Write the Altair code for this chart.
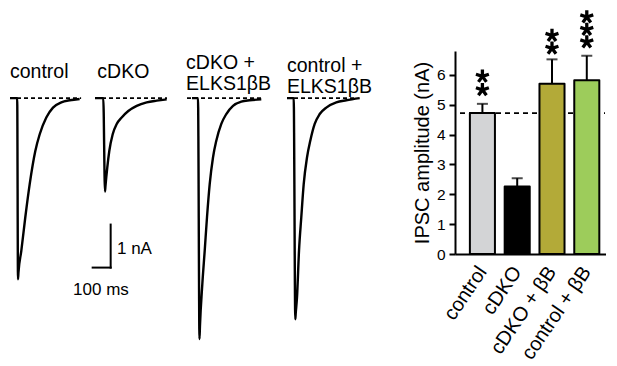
import altair as alt
import pandas as pd

FONT = "Liberation Sans"
MS_PER_PX = 100 / 18.0
Y_DOM = [-5.6, 1.095]

# ---- representative IPSC traces (time in ms, current in nA)
ctrl_t = [0, 40, 44.4, 47, 62.8, 85, 109.4, 140.6, 165, 201.7, 238.9, 285, 331.7, 387]
ctrl_i = [0, 0, -4.21, -4.05, -3.55, -2.77, -2.0, -1.23, -0.84, -0.45, -0.22, -0.10, -0.05, -0.02]

cdko_t = [0, 46, 55.6, 58, 68.3, 79.4, 98.3, 120.6, 148.3, 185, 231.7, 287.2, 342.8, 398.3]
cdko_i = [0, 0, -2.17, -2.05, -1.61, -1.23, -0.84, -0.60, -0.45, -0.30, -0.18, -0.10, -0.06, -0.03]

cdko_elks_t = [27.8, 61.1, 69.4, 72, 85, 98.3, 111.1, 126.1, 144.4, 162.8, 190.6, 218.3, 255.6, 301.7, 348.3, 412.8]
cdko_elks_i = [0, 0, -5.60, -5.30, -4.33, -3.55, -2.77, -2.0, -1.38, -0.99, -0.60, -0.37, -0.18, -0.08, -0.05, -0.03]

ctrl_elks_t = [0, 37.2, 46.1, 48.5, 55.6, 66.7, 79.4, 92.8, 111.1, 129.4, 153.9, 181.7, 218.3, 273.9, 329.4, 403.9]
ctrl_elks_i = [0, 0, -5.14, -5.0, -4.63, -3.55, -2.77, -2.0, -1.38, -0.99, -0.60, -0.37, -0.22, -0.10, -0.05, 0]

dash_ends = [395, 400, 416.7, 389]
panel_widths = [84.5, 92, 100, 168]

trace_labels = [
    (["control"], [0], [0.47]),
    (["cDKO"], [13], [0.47]),
    (["cDKO +", "ELKS1\u03b2B"], [-5, -5], [0.67, 0.19]),
    (["control +", "ELKS1\u03b2B"], [0, 0], [0.61, 0.13]),
]

# scale bar: 100 ms / 1 nA
sb_t = [-13, 87]
sb_t2 = [87, 87]
sb_i = [-3.94, -3.94]
sb_i2 = [-3.94, -2.94]
sb_v_text = ["1 nA"]
sb_v_t = [122]
sb_v_i = [-3.51]
sb_h_text = ["100 ms"]
sb_h_t = [33]
sb_h_i = [-4.47]

# ---- bar chart
cats = ["control", "cDKO", "cDKO + \u03b2B", "control + \u03b2B"]
means = [4.72, 2.26, 5.70, 5.82]
sems = [0.31, 0.28, 0.82, 0.82]
colors = ["#d3d4d6", "#000000", "#b3aa38", "#9dcc5b"]
ref_line = [4.72]
star_cat = ["control", "control", "cDKO + \u03b2B", "cDKO + \u03b2B",
            "control + \u03b2B", "control + \u03b2B", "control + \u03b2B"]
star_y = [5.50, 5.95, 6.89, 7.32, 7.10, 7.52, 7.94]

STAR = "M0,0L0,-1M0,0L0.951,-0.309M0,0L0.588,0.809M0,0L-0.588,0.809M0,0L-0.951,-0.309"

BAR_W = 151
BAR_H = 203


def trace_panel(k, t, i):
    w = panel_widths[k]
    xs = alt.Scale(domain=[0, w * MS_PER_PX], nice=False, zero=False)
    ys = alt.Scale(domain=Y_DOM, nice=False, zero=False)
    X = alt.X("t:Q", scale=xs, axis=None)
    Y = alt.Y("i:Q", scale=ys, axis=None)
    dash_df = pd.DataFrame({"t": [0], "t2": [dash_ends[k]], "i": [0]})
    dash = alt.Chart(dash_df).mark_rule(
        strokeDash=[4, 3], strokeWidth=1.6, color="black"
    ).encode(x=X, x2="t2:Q", y=Y)
    line = alt.Chart(pd.DataFrame({"t": t, "i": i})).mark_line(
        color="black", strokeWidth=2.4, interpolate="monotone", strokeJoin="round"
    ).encode(x=X, y=Y)
    txt, tt, ti = trace_labels[k]
    lab = alt.Chart(pd.DataFrame({"t": tt, "i": ti, "label": txt})).mark_text(
        align="left", baseline="alphabetic", font=FONT, fontSize=19.5, color="black"
    ).encode(x=X, y=Y, text="label:N")
    layers = [dash, line, lab]
    if k == 1:
        sb = alt.Chart(pd.DataFrame({"t": sb_t, "t2": sb_t2, "i": sb_i, "i2": sb_i2})).mark_rule(
            color="black", strokeWidth=2, strokeCap="square"
        ).encode(x=X, x2="t2:Q", y=Y, y2="i2:Q")
        sbv = alt.Chart(pd.DataFrame({"t": sb_v_t, "i": sb_v_i, "label": sb_v_text})).mark_text(
            align="left", baseline="middle", font=FONT, fontSize=17, color="black"
        ).encode(x=X, y=Y, text="label:N")
        sbh = alt.Chart(pd.DataFrame({"t": sb_h_t, "i": sb_h_i, "label": sb_h_text})).mark_text(
            align="center", baseline="middle", font=FONT, fontSize=17, color="black"
        ).encode(x=X, y=Y, text="label:N")
        layers += [sb, sbv, sbh]
    return alt.layer(*layers).properties(width=w, height=288)


p1 = trace_panel(0, ctrl_t, ctrl_i)
p2 = trace_panel(1, cdko_t, cdko_i)
p3 = trace_panel(2, cdko_elks_t, cdko_elks_i)
p4 = trace_panel(3, ctrl_elks_t, ctrl_elks_i)

bar_df = pd.DataFrame({"cat": cats, "mean": means, "sem": sems})
bar_df["top"] = bar_df["mean"] + bar_df["sem"]

BX = alt.X(
    "cat:N", sort=cats,
    scale=alt.Scale(domain=cats, paddingInner=0.28, paddingOuter=0.31, align=0.69),
    axis=alt.Axis(title=None, labelAngle=-56, ticks=False, labelFontSize=20, labelFont=FONT,
                  labelColor="black", domainColor="black", domainWidth=2, labelPadding=14),
)
YS = alt.Scale(domain=[0, 6.8], nice=False, zero=True)
YAX = alt.Axis(values=[0, 1, 2, 3, 4, 5, 6], format="d", title="IPSC amplitude (nA)",
               titleFont=FONT, titleFontSize=20, titleFontWeight="normal", titleColor="black",
               titlePadding=4, labelFont=FONT, labelFontSize=15.5, labelColor="black",
               labelPadding=4, tickSize=6, tickWidth=2, tickColor="black",
               domainColor="black", domainWidth=2, grid=False, labelOverlap=False)


def Yf(field):
    return alt.Y(field, scale=YS, axis=YAX, title="IPSC amplitude (nA)")


dashed = alt.Chart(pd.DataFrame({"v": ref_line})).mark_rule(
    strokeDash=[5, 4], strokeWidth=1.6, color="black"
).encode(y=Yf("v:Q"), x=alt.value(5), x2=alt.value(BAR_W - 1))

err = alt.Chart(bar_df).mark_rule(color="black", strokeWidth=2).encode(
    x=BX, y=Yf("mean:Q"), y2="top:Q")
bars = alt.Chart(bar_df).mark_bar(stroke="black", strokeWidth=2, strokeJoin="round").encode(
    x=BX, y=Yf("mean:Q"),
    color=alt.Color("cat:N", scale=alt.Scale(domain=cats, range=colors), legend=None),
)
caps = alt.Chart(bar_df).mark_tick(color="black", thickness=2, size=11).encode(
    x=BX, y=Yf("top:Q"))
stars = alt.Chart(pd.DataFrame({"cat": star_cat, "y": star_y})).mark_point(
    shape=STAR, filled=False, stroke="black", strokeWidth=3.3, size=185, opacity=1,
    strokeJoin="round"
).encode(x=BX, y=Yf("y:Q"))

bar_chart = alt.layer(dashed, err, bars, caps, stars).properties(width=BAR_W, height=BAR_H)

chart = alt.hconcat(p1, p2, p3, p4, bar_chart, spacing=0, bounds="flush").resolve_scale(
    x="independent", y="independent"
).properties(
    padding={"left": 0, "top": 0, "right": 0, "bottom": 0}
).configure_view(stroke=None)

chart.save("out.html", embed_options={"renderer": "svg", "actions": False})
